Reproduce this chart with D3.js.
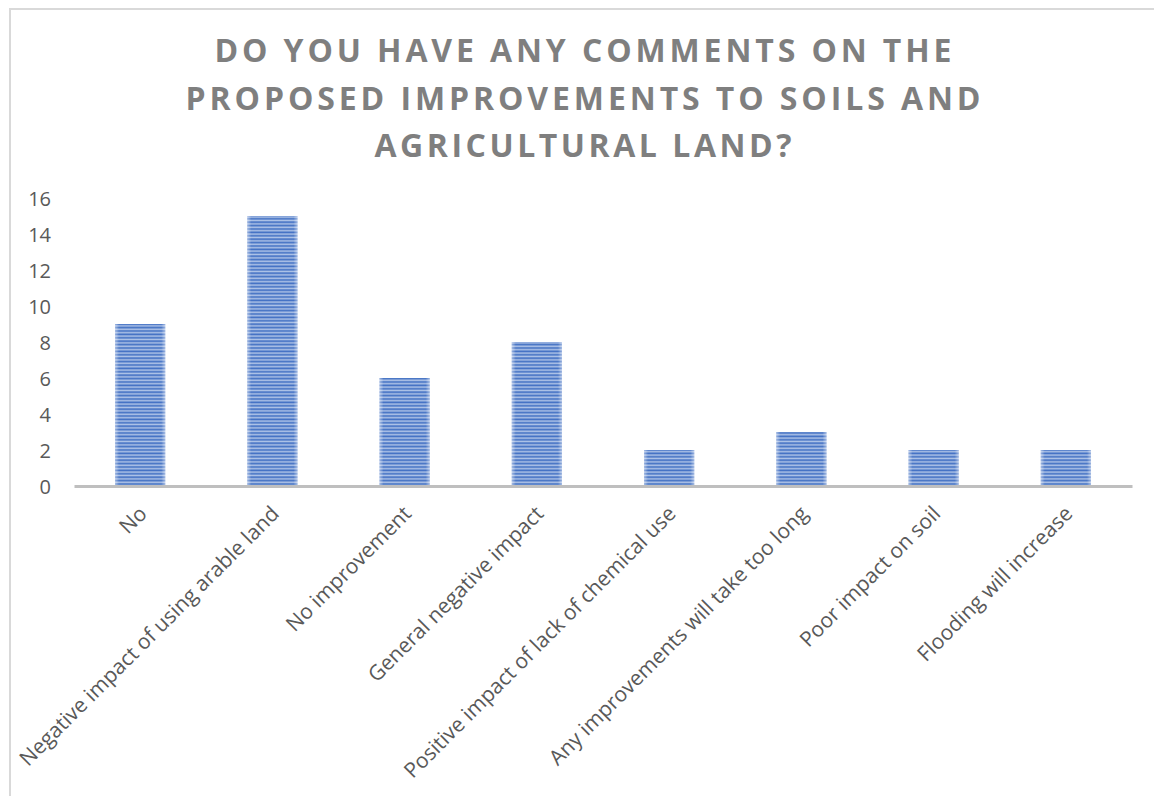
<!DOCTYPE html>
<html>
<head>
<meta charset="utf-8">
<script src="https://cdn.jsdelivr.net/npm/d3@7"></script>
<style>
  html, body { margin: 0; padding: 0; background: #fff; }
  svg { display: block; }
</style>
</head>
<body>
<svg id="chart" width="1154" height="796"></svg>
<script>
// Survey responses: comments on proposed improvements to soils and agricultural land
const categories = [
  "No",
  "Negative impact of using arable land",
  "No improvement",
  "General negative impact",
  "Positive impact of lack of chemical use",
  "Any improvements will take too long",
  "Poor impact on soil",
  "Flooding will increase"
];
const counts = [9, 15, 6, 8, 2, 3, 2, 2];
const yTicks = [0, 2, 4, 6, 8, 10, 12, 14, 16];
const titleLines = [
  "DO YOU HAVE ANY COMMENTS ON THE",
  "PROPOSED IMPROVEMENTS TO SOILS AND",
  "AGRICULTURAL LAND?"
];

const svg = d3.select("#chart");
const W = 1154, H = 796;
const font = "'Open Sans', 'DejaVu Sans', sans-serif";

// chart frame
svg.append("rect")
  .attr("x", 10).attr("y", 9)
  .attr("width", W + 20).attr("height", H + 20)
  .attr("fill", "#fff")
  .attr("stroke", "#d9d9d9").attr("stroke-width", 2);

// striped bar fill
const defs = svg.append("defs");
const pat = defs.append("pattern")
  .attr("id", "stripes")
  .attr("patternUnits", "userSpaceOnUse")
  .attr("width", 8).attr("height", 3.4);
pat.append("rect").attr("width", 8).attr("height", 3.4).attr("fill", "#b0c4e8");
pat.append("rect").attr("y", 0.3).attr("width", 8).attr("height", 1.8).attr("fill", "#4472c4");

// soft edge overlay for bars
const edge = defs.append("linearGradient").attr("id", "edge").attr("x1", 0).attr("x2", 1);
edge.append("stop").attr("offset", 0).attr("stop-color", "#fff").attr("stop-opacity", 0.45);
edge.append("stop").attr("offset", 0.08).attr("stop-color", "#fff").attr("stop-opacity", 0);
edge.append("stop").attr("offset", 0.92).attr("stop-color", "#fff").attr("stop-opacity", 0);
edge.append("stop").attr("offset", 1).attr("stop-color", "#fff").attr("stop-opacity", 0.45);

// title
const titleY = [62, 110, 157];
const titleW = [737, 795, 417];
svg.append("g").selectAll("text")
  .data(titleLines)
  .join("text")
  .attr("x", 583)
  .attr("y", (d, i) => titleY[i])
  .attr("text-anchor", "middle")
  .attr("textLength", (d, i) => titleW[i])
  .attr("lengthAdjust", "spacing")
  .attr("font-family", font)
  .attr("font-weight", "bold")
  .attr("font-size", 32)
  .attr("fill", "#7f7f7f")
  .text(d => d);

// scales
const x = d3.scaleBand()
  .domain(categories)
  .range([74, 1132])
  .paddingInner(0.62)
  .paddingOuter(0.31);

const y = d3.scaleLinear()
  .domain([0, 16])
  .range([486, 198]);

// bars
const bars = svg.append("g");
bars.selectAll("rect.bar")
  .data(counts)
  .join("rect")
  .attr("class", "bar")
  .attr("x", (d, i) => x(categories[i]))
  .attr("y", d => y(d))
  .attr("width", x.bandwidth())
  .attr("height", d => y(0) - y(d))
  .attr("fill", "url(#stripes)");
bars.selectAll("rect.edge")
  .data(counts)
  .join("rect")
  .attr("class", "edge")
  .attr("x", (d, i) => x(categories[i]))
  .attr("y", d => y(d))
  .attr("width", x.bandwidth())
  .attr("height", d => y(0) - y(d))
  .attr("fill", "url(#edge)");

// y axis (labels only)
const yAxis = svg.append("g")
  .attr("transform", "translate(51,0)")
  .call(d3.axisLeft(y).tickValues(yTicks).tickSize(0).tickPadding(0));
yAxis.select(".domain").remove();
yAxis.selectAll("text")
  .attr("font-family", font)
  .attr("font-size", 20)
  .attr("font-weight", 500)
  .attr("fill", "#595959")
  .attr("dy", "0.36em");

// x axis
const xAxis = svg.append("g")
  .attr("transform", `translate(0,${y(0)})`)
  .call(d3.axisBottom(x).tickSize(0).tickPadding(0));
xAxis.select(".domain")
  .attr("stroke", "#bfbfbf")
  .attr("stroke-width", 3);
xAxis.selectAll("text")
  .attr("font-family", font)
  .attr("font-size", 21)
  .attr("font-weight", 500)
  .attr("fill", "#595959")
  .attr("text-anchor", "end")
  .attr("dy", null)
  .attr("y", 0)
  .attr("transform", "translate(8,29) rotate(-45)");
</script>
</body>
</html>
